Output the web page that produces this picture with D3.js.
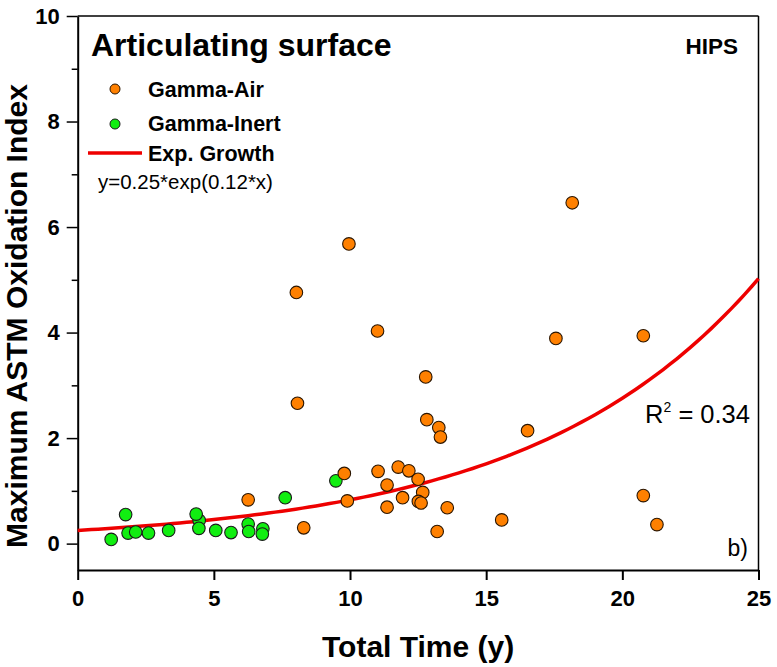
<!DOCTYPE html>
<html>
<head>
<meta charset="utf-8">
<script src="https://cdn.jsdelivr.net/npm/d3@7"></script>
<style>
  html, body { margin: 0; padding: 0; background: #fff; }
  svg { display: block; }
  text { font-family: "Liberation Sans", Arial, sans-serif; }
</style>
</head>
<body>
<svg id="chart" width="777" height="667"></svg>
<script>
// ---- data ----
const airX = [6.26, 8.03, 8.07, 8.30, 9.79, 9.90, 9.96, 11.01, 11.03, 11.36, 11.36, 11.77, 11.93, 12.16, 12.50, 12.67, 12.51, 12.61, 12.78, 12.82, 13.26, 13.32, 13.57, 13.20, 15.57, 16.52, 17.56, 18.16, 20.77, 20.77, 21.27];
const airY = [0.83, 4.76, 2.66, 0.30, 1.33, 0.81, 5.68, 4.03, 1.37, 1.11, 0.69, 1.45, 0.87, 1.38, 1.22, 0.97, 0.80, 0.77, 3.16, 2.35, 2.20, 2.02, 0.68, 0.23, 0.45, 2.14, 3.89, 6.46, 3.94, 0.91, 0.36];
const inertX = [1.23, 1.76, 1.85, 2.13, 2.60, 3.34, 4.46, 4.35, 4.45, 5.07, 5.63, 6.26, 6.28, 6.80, 6.78, 7.62, 9.48];
const inertY = [0.08, 0.55, 0.20, 0.22, 0.20, 0.25, 0.44, 0.56, 0.29, 0.25, 0.21, 0.37, 0.23, 0.28, 0.18, 0.87, 1.19];
const fitA = 0.25, fitB = 0.12;
const xTicks = [0, 5, 10, 15, 20, 25];
const yTicks = [0, 2, 4, 6, 8, 10];
const yMinorTicks = [1, 3, 5, 7, 9];
const seriesNames = ["Gamma-Air", "Gamma-Inert", "Exp. Growth"];

// ---- layout ----
const svg = d3.select("#chart");
const x = d3.scaleLinear().domain([0, 25]).range([77.7, 758.5]);
const y = d3.scaleLinear().domain([-0.5, 10]).range([570, 16]);

const orange = "#ff8000", green = "#11ee11", red = "#ee0000";

// frame top/right
svg.append("line").attr("x1", x(0)).attr("x2", x(25)).attr("y1", y(10)).attr("y2", y(10))
  .attr("stroke", "#000").attr("stroke-width", 1.5);
svg.append("line").attr("x1", x(25)).attr("x2", x(25)).attr("y1", y(10)).attr("y2", y(-0.5))
  .attr("stroke", "#000").attr("stroke-width", 1.5);

// x axis
const gx = svg.append("g").attr("transform", `translate(0,${y(-0.5)})`)
  .call(d3.axisBottom(x).tickValues(xTicks).tickSize(10).tickSizeOuter(0).tickPadding(6).tickFormat(d3.format("d")));
gx.select(".domain").attr("stroke-width", 2);
gx.selectAll(".tick line").attr("stroke-width", 2);
gx.selectAll(".tick text").attr("font-size", 22).attr("font-weight", "bold")
  .attr("font-family", "'Liberation Sans', Arial, sans-serif").attr("dy", "0.9em");

// y axis
const gy = svg.append("g").attr("transform", `translate(${x(0)},0)`)
  .call(d3.axisLeft(y).tickValues(yTicks).tickSize(11).tickSizeOuter(0).tickPadding(7).tickFormat(d3.format("d")));
gy.select(".domain").attr("stroke-width", 2);
gy.selectAll(".tick line").attr("stroke-width", 1.5);
gy.selectAll(".tick text").attr("font-size", 22).attr("font-weight", "bold")
  .attr("font-family", "'Liberation Sans', Arial, sans-serif");
const gyMinor = svg.append("g").attr("transform", `translate(${x(0)},0)`)
  .call(d3.axisLeft(y).tickValues(yMinorTicks).tickSize(6).tickSizeOuter(0).tickFormat(""));
gyMinor.select(".domain").remove();
gyMinor.selectAll(".tick line").attr("stroke-width", 1.5);

// axis titles
svg.append("text").attr("x", (x(0) + x(25)) / 2).attr("y", 657).attr("text-anchor", "middle")
  .attr("font-size", 30).attr("font-weight", "bold").text("Total Time (y)");
svg.append("text").attr("transform", "translate(27,316) rotate(-90)").attr("text-anchor", "middle")
  .attr("font-size", 30).attr("font-weight", "bold").text("Maximum ASTM Oxidation Index");

// fit curve
const fitXs = d3.range(0, 25.001, 0.25);
const line = d3.line().x(d => x(d)).y(d => y(fitA * Math.exp(fitB * d)));
svg.append("path").datum(fitXs).attr("d", line).attr("fill", "none")
  .attr("stroke", red).attr("stroke-width", 3.5);

// points
const airData = airX.map((v, i) => ({ x: v, y: airY[i] }));
const inertData = inertX.map((v, i) => ({ x: v, y: inertY[i] }));
svg.append("g").selectAll("circle").data(inertData).join("circle")
  .attr("cx", d => x(d.x)).attr("cy", d => y(d.y)).attr("r", 6.3)
  .attr("fill", green).attr("stroke", "#1a1a1a").attr("stroke-width", 1.1);
svg.append("g").selectAll("circle").data(airData).join("circle")
  .attr("cx", d => x(d.x)).attr("cy", d => y(d.y)).attr("r", 6.3)
  .attr("fill", orange).attr("stroke", "#2a1500").attr("stroke-width", 1.1);

// title & labels
svg.append("text").attr("x", 91).attr("y", 56).attr("font-size", 32).attr("font-weight", "bold")
  .text("Articulating surface");
svg.append("text").attr("x", 738).attr("y", 53.5).attr("text-anchor", "end").attr("font-size", 22.5)
  .attr("font-weight", "bold").text("HIPS");

// legend
const leg = svg.append("g");
leg.append("circle").attr("cx", 115).attr("cy", 89).attr("r", 5).attr("fill", orange).attr("stroke", "#2a1500");
leg.append("circle").attr("cx", 115).attr("cy", 124).attr("r", 5).attr("fill", green).attr("stroke", "#1a1a1a");
leg.append("line").attr("x1", 88).attr("x2", 142).attr("y1", 153).attr("y2", 153)
  .attr("stroke", red).attr("stroke-width", 3.5);
[96.7, 130.7, 161].forEach((by, i) => {
  leg.append("text").attr("x", 148).attr("y", by).attr("font-size", 21.5).attr("font-weight", "bold")
    .text(seriesNames[i]);
});
svg.append("text").attr("x", 98).attr("y", 189).attr("font-size", 20.5).text(`y=${fitA}*exp(${fitB}*x)`);

// R^2
const r2 = svg.append("text").attr("x", 750).attr("y", 423.3).attr("text-anchor", "end").attr("font-size", 25.5);
r2.append("tspan").text("R");
r2.append("tspan").attr("font-size", 14).attr("dy", -11).text("2");
r2.append("tspan").attr("dy", 11).text(" = 0.34");

svg.append("text").attr("x", 748).attr("y", 556).attr("text-anchor", "end").attr("font-size", 23).text("b)");
</script>
</body>
</html>
